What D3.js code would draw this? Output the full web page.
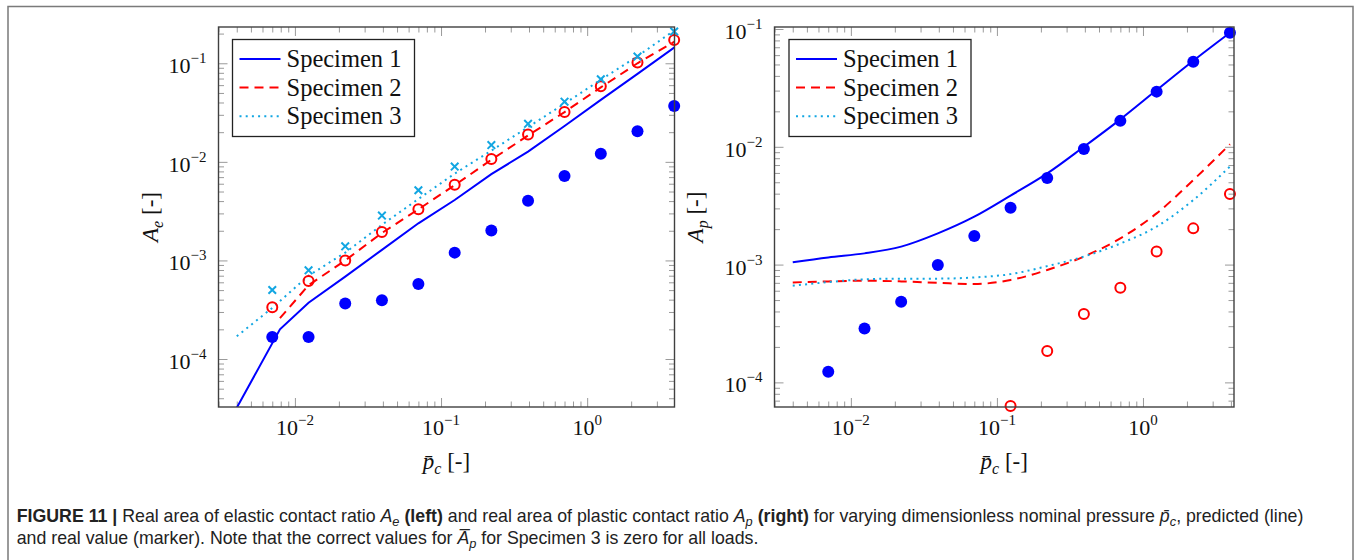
<!DOCTYPE html>
<html>
<head>
<meta charset="utf-8">
<script src="https://cdn.jsdelivr.net/npm/d3@7"></script>
<style>
  body { margin: 0; background: #fff; }
  svg { display: block; }
</style>
</head>
<body>
<div id="figura"></div>
<script>
// DADOS ----------------------------------------------------------------------
// cargas (pressão nominal adimensional p̄c) onde há marcadores
const cargas = [0.007, 0.0124, 0.0221, 0.0394, 0.070, 0.124, 0.221, 0.394, 0.70, 1.24, 2.21, 3.94];
const series = ["Specimen 1", "Specimen 2", "Specimen 3"];

// painel esquerdo: A_e, valores reais (marcadores)
const ae1Real = [1.67e-4, 1.67e-4, 3.65e-4, 3.94e-4, 5.77e-4, 1.20e-3, 2.01e-3, 4.04e-3, 7.19e-3, 1.21e-2, 2.04e-2, 3.69e-2];
const ae2Real = [3.35e-4, 6.19e-4, 1.00e-3, 1.94e-3, 3.30e-3, 5.87e-3, 1.07e-2, 1.89e-2, 3.21e-2, 5.85e-2, 0.1016, 0.1726];
const ae3Real = [5.01e-4, 7.94e-4, 1.39e-3, 2.85e-3, 5.15e-3, 8.95e-3, 1.48e-2, 2.43e-2, 4.08e-2, 6.88e-2, 0.117, 0.210];

// painel esquerdo: A_e, previsto (linhas)
const ae1PredX = [0.004, 0.0079, 0.0124, 0.0221, 0.0394, 0.070, 0.124, 0.221, 0.394, 0.70, 1.24, 2.21, 3.96];
const ae1Pred  = [3.2e-5, 2.0e-4, 3.73e-4, 6.86e-4, 1.28e-3, 2.38e-3, 4.1e-3, 7.5e-3, 1.27e-2, 2.31e-2, 4.25e-2, 7.8e-2, 0.145];
const ae2PredX = [0.0079, 0.0124, 0.0221, 0.0394, 0.070, 0.124, 0.221, 0.394, 0.70, 1.24, 2.21, 3.96];
const ae2Pred  = [2.6e-4, 5.6e-4, 1.0e-3, 1.9e-3, 3.3e-3, 5.8e-3, 1.05e-2, 1.85e-2, 3.2e-2, 5.7e-2, 0.100, 0.166];
const ae3PredX = [0.004, 0.007, 0.0124, 0.0221, 0.0394, 0.070, 0.124, 0.221, 0.394, 0.70, 1.24, 2.21, 3.96];
const ae3Pred  = [1.7e-4, 3.3e-4, 7.0e-4, 1.2e-3, 2.3e-3, 4.2e-3, 7.6e-3, 1.3e-2, 2.25e-2, 3.9e-2, 6.8e-2, 0.118, 0.216];

// painel direito: A_p, valores reais (0 = não aparece na escala log)
const ap1Real = [1.23e-4, 2.87e-4, 4.84e-4, 9.9e-4, 1.75e-3, 3.04e-3, 5.43e-3, 9.57e-3, 1.66e-2, 2.94e-2, 5.28e-2, 9.3e-2];
const ap2Real = [0, 0, 0, 0, 0, 6.3e-5, 1.85e-4, 3.8e-4, 6.37e-4, 1.29e-3, 2.03e-3, 3.97e-3];

// painel direito: A_p, previsto
const apPredX = [0.004, 0.007, 0.0124, 0.0221, 0.0394, 0.070, 0.124, 0.221, 0.394, 0.70, 1.24, 2.21, 3.94];
const ap1Pred = [1.045e-3, 1.15e-3, 1.245e-3, 1.42e-3, 1.84e-3, 2.55e-3, 3.85e-3, 5.94e-3, 1.0e-2, 1.71e-2, 3.03e-2, 5.38e-2, 0.093];
const ap2Pred = [7.06e-4, 7.2e-4, 7.3e-4, 7.2e-4, 7.0e-4, 6.84e-4, 7.4e-4, 9.0e-4, 1.17e-3, 1.67e-3, 2.72e-3, 5.22e-3, 1.05e-2];
const ap3Pred = [6.62e-4, 7.1e-4, 7.5e-4, 7.6e-4, 7.6e-4, 7.78e-4, 8.3e-4, 9.7e-4, 1.17e-3, 1.51e-3, 2.1e-3, 3.53e-3, 6.8e-3];

// ESTILOS ------------------------------------------------------------------
const AZUL = "#0000ff", VERMELHO = "#ff0000", CIANO = "#12a6e2";
const estilos = [
  { cor: AZUL, traco: null, largura: 2 },
  { cor: VERMELHO, traco: "9,6", largura: 2 },
  { cor: CIANO, traco: "2,4.2", largura: 2 }
];
const SERIF = "'Liberation Serif', 'DejaVu Serif', serif";
const SANS = "'Liberation Sans', Arial, sans-serif";

const largura = 1356, altura = 560;
const svg = d3.select("#figura").append("svg")
    .attr("width", largura)
    .attr("height", altura)
    .attr("viewBox", [0, 0, largura, altura]);

// moldura externa da figura
svg.append("rect")
    .attr("x", 8).attr("y", 6.5)
    .attr("width", 1345).attr("height", 600)
    .attr("fill", "none")
    .attr("stroke", "#7a7a7a")
    .attr("stroke-width", 1.5);

// texto com partes em itálico / negrito / subscrito
function escreve(texto, partes, tamSub) {
  let desloc = 0;
  partes.forEach(p => {
    const ts = texto.append("tspan").text(p.t);
    if (p.b) ts.attr("font-weight", "bold");
    if (p.i) ts.attr("font-style", "italic");
    const alvo = p.sub ? p.sub : 0;
    if (alvo !== desloc) { ts.attr("dy", alvo - desloc); desloc = alvo; }
    if (p.sub) ts.attr("font-size", tamSub);
  });
}

function Painel({
  id,
  esquerda, direita, topo = 27, base = 407,
  dominio_x, dominio_y,
  linhas,        // [{x, y, estilo}]
  marcas,        // [{y, tipo, cor}]
  legenda,       // {x, y, w, h}
  rotulo_y,      // partes do texto
  pos_rotulo_y,  // x da linha de base do rótulo y
  curva = d3.curveLinear
}) {
  const x = d3.scaleLog(dominio_x, [esquerda, direita]);
  const y = d3.scaleLog(dominio_y, [base, topo]);
  const g = svg.append("g").attr("class", "painel_" + id);

  // marcas de escala maiores e menores
  const maiores = dom => {
    const a = [];
    for (let e = Math.ceil(Math.log10(dom[0])); e <= Math.floor(Math.log10(dom[1])); e++) a.push(e);
    return a;
  };
  const menores = dom => {
    const a = [];
    for (let e = Math.floor(Math.log10(dom[0])); e <= Math.ceil(Math.log10(dom[1])); e++)
      for (let k = 2; k <= 9; k++) {
        const v = k * Math.pow(10, e);
        if (v >= dom[0] && v <= dom[1]) a.push(v);
      }
    return a;
  };
  const mx = maiores(dominio_x), my = maiores(dominio_y);

  const eixos = [
    [d3.axisBottom, x, `translate(0,${base})`, dominio_x, mx],
    [d3.axisTop, x, `translate(0,${topo})`, dominio_x, mx],
    [d3.axisLeft, y, `translate(${esquerda},0)`, dominio_y, my],
    [d3.axisRight, y, `translate(${direita},0)`, dominio_y, my]
  ];
  eixos.forEach(([gerador, escala, tr, dom, mai]) => {
    [[mai.map(e => Math.pow(10, e)), 9], [menores(dom), 5.5]].forEach(([vals, tam]) => {
      g.append("g")
          .attr("transform", tr)
          .call(gerador(escala).tickValues(vals).tickSize(-tam).tickSizeOuter(0).tickFormat(""))
          .call(s => s.select(".domain").remove())
          .selectAll(".tick line")
            .attr("stroke", "#9a9a9a")
            .attr("stroke-width", 1);
    });
  });

  // rótulos das marcas: 10^n
  const pot = (sel, e) => {
    sel.append("tspan").text("10");
    sel.append("tspan").attr("dy", -10).attr("font-size", 15)
        .text(e < 0 ? "\u2212" + Math.abs(e) : String(e));
  };
  g.append("g")
      .attr("font-family", SERIF).attr("font-size", 22).attr("fill", "#111")
    .selectAll("text")
    .data(mx)
    .join("text")
      .attr("x", e => x(Math.pow(10, e)))
      .attr("y", base + 28)
      .attr("text-anchor", "middle")
      .each(function(e) { pot(d3.select(this), e); });
  g.append("g")
      .attr("font-family", SERIF).attr("font-size", 22).attr("fill", "#111")
    .selectAll("text")
    .data(my)
    .join("text")
      .attr("x", esquerda - 12)
      .attr("y", e => y(Math.pow(10, e)) + 10)
      .attr("text-anchor", "end")
      .each(function(e) { pot(d3.select(this), e); });

  // linhas (recortadas pela área do gráfico)
  g.append("clipPath").attr("id", "recorte_" + id)
    .append("rect")
      .attr("x", esquerda).attr("y", topo)
      .attr("width", direita - esquerda).attr("height", base - topo);

  const linha = d3.line().x(d => x(d[0])).y(d => y(d[1])).curve(curva);
  g.append("g")
      .attr("clip-path", `url(#recorte_${id})`)
      .attr("fill", "none")
    .selectAll("path")
    .data(linhas)
    .join("path")
      .attr("d", l => linha(d3.zip(l.x, l.y)))
      .attr("stroke", l => l.estilo.cor)
      .attr("stroke-width", l => l.estilo.largura)
      .attr("stroke-dasharray", l => l.estilo.traco);

  // marcadores
  marcas.forEach(m => {
    const pts = d3.zip(cargas, m.y).filter(d => d[1] > 0);
    const gm = g.append("g");
    if (m.tipo === "disco") {
      gm.selectAll("circle").data(pts).join("circle")
          .attr("cx", d => x(d[0])).attr("cy", d => y(d[1]))
          .attr("r", 6).attr("fill", m.cor);
    } else if (m.tipo === "circulo") {
      gm.selectAll("circle").data(pts).join("circle")
          .attr("cx", d => x(d[0])).attr("cy", d => y(d[1]))
          .attr("r", 5).attr("fill", "none")
          .attr("stroke", m.cor).attr("stroke-width", 2);
    } else {
      const s = 3.8;
      gm.selectAll("path").data(pts).join("path")
          .attr("d", d => {
            const cx = x(d[0]), cy = y(d[1]);
            return `M${cx - s},${cy - s}L${cx + s},${cy + s}M${cx - s},${cy + s}L${cx + s},${cy - s}`;
          })
          .attr("stroke", m.cor).attr("stroke-width", 2);
    }
  });

  // moldura do gráfico
  g.append("rect")
      .attr("x", esquerda).attr("y", topo)
      .attr("width", direita - esquerda).attr("height", base - topo)
      .attr("fill", "none")
      .attr("stroke", "#404040")
      .attr("stroke-width", 1.4);

  // legenda
  const leg = g.append("g").attr("transform", `translate(${legenda.x},${legenda.y})`);
  leg.append("rect")
      .attr("width", legenda.w).attr("height", legenda.h)
      .attr("fill", "#fff").attr("stroke", "#222").attr("stroke-width", 1.3);
  series.forEach((nome, i) => {
    const cy = 19.5 + i * 28.6;
    leg.append("line")
        .attr("x1", 7).attr("x2", 48).attr("y1", cy).attr("y2", cy)
        .attr("stroke", estilos[i].cor)
        .attr("stroke-width", estilos[i].largura)
        .attr("stroke-dasharray", estilos[i].traco);
    leg.append("text")
        .attr("x", 54).attr("y", cy + 8)
        .attr("font-family", SERIF).attr("font-size", 24.5).attr("fill", "#111")
        .text(nome);
  });

  // rótulo do eixo x: p̄c [-]
  const tx = g.append("text")
      .attr("x", (esquerda + direita) / 2).attr("y", base + 62)
      .attr("text-anchor", "middle")
      .attr("font-family", SERIF).attr("font-size", 23).attr("fill", "#111");
  escreve(tx, [{ t: "p\u0304", i: true }, { t: "c", i: true, sub: 5 }, { t: "  [-]" }], 16);

  // rótulo do eixo y
  const ty = g.append("text")
      .attr("transform", `translate(${pos_rotulo_y},217) rotate(-90)`)
      .attr("text-anchor", "middle")
      .attr("font-family", SERIF).attr("font-size", 23).attr("fill", "#111");
  escreve(ty, rotulo_y, 16);
}

// PAINEL ESQUERDO: A_e ---------------------------------------------------------
Painel({
  id: "esq",
  esquerda: 218.5, direita: 674.5,
  dominio_x: [0.003, 3.96],
  dominio_y: [3.26e-5, 0.2333],
  linhas: [
    { x: ae1PredX, y: ae1Pred, estilo: estilos[0] },
    { x: ae2PredX, y: ae2Pred, estilo: estilos[1] },
    { x: ae3PredX, y: ae3Pred, estilo: estilos[2] }
  ],
  marcas: [
    { y: ae1Real, tipo: "disco", cor: AZUL },
    { y: ae2Real, tipo: "circulo", cor: VERMELHO },
    { y: ae3Real, tipo: "x", cor: CIANO }
  ],
  legenda: { x: 232.5, y: 39.5, w: 182, h: 97 },
  rotulo_y: [{ t: "A", i: true }, { t: "e", i: true, sub: 5 }, { t: "  [-]" }],
  pos_rotulo_y: 158
});

// PAINEL DIREITO: A_p ----------------------------------------------------------
Painel({
  id: "dir",
  esquerda: 774.5, direita: 1234,
  dominio_x: [0.003, 4.2],
  dominio_y: [6.18e-5, 0.104],
  linhas: [
    { x: apPredX, y: ap1Pred, estilo: estilos[0] },
    { x: apPredX, y: ap2Pred, estilo: estilos[1] },
    { x: apPredX, y: ap3Pred, estilo: estilos[2] }
  ],
  marcas: [
    { y: ap1Real, tipo: "disco", cor: AZUL },
    { y: ap2Real, tipo: "circulo", cor: VERMELHO }
  ],
  legenda: { x: 789, y: 39.5, w: 182, h: 97 },
  rotulo_y: [{ t: "A", i: true }, { t: "p", i: true, sub: 5 }, { t: "  [-]" }],
  pos_rotulo_y: 703,
  curva: d3.curveMonotoneX
});

// LEGENDA DA FIGURA -----------------------------------------------------------
const linhasLegenda = [
  [
    { t: "FIGURE 11 | ", b: true },
    { t: "Real area of elastic contact ratio " },
    { t: "A", i: true }, { t: "e", i: true, sub: 4 },
    { t: " (left)", b: true },
    { t: " and real area of plastic contact ratio " },
    { t: "A", i: true }, { t: "p", i: true, sub: 4 },
    { t: " (right)", b: true },
    { t: " for varying dimensionless nominal pressure " },
    { t: "p\u0304", i: true }, { t: "c", i: true, sub: 4 },
    { t: ", predicted (line)" }
  ],
  [
    { t: "and real value (marker). Note that the correct values for " },
    { t: "A\u0305", i: true }, { t: "p", i: true, sub: 4 },
    { t: " for Specimen 3 is zero for all loads." }
  ]
];
const basesLegenda = [522, 543.5];
const grupos = linhasLegenda.map((partes, i) => {
  const gl = svg.append("g");
  const t = gl.append("text")
      .attr("font-family", SANS).attr("font-size", 18).attr("fill", "#222");
  escreve(t, partes, 13);
  return { gl, t, base: basesLegenda[i] };
});
// comprime horizontalmente (fonte condensada do original)
const fator = 1288 / grupos[0].t.node().getComputedTextLength();
grupos.forEach(({ gl, base }) => gl.attr("transform", `translate(16.7,${base}) scale(${fator},1)`));
</script>
</body>
</html>
